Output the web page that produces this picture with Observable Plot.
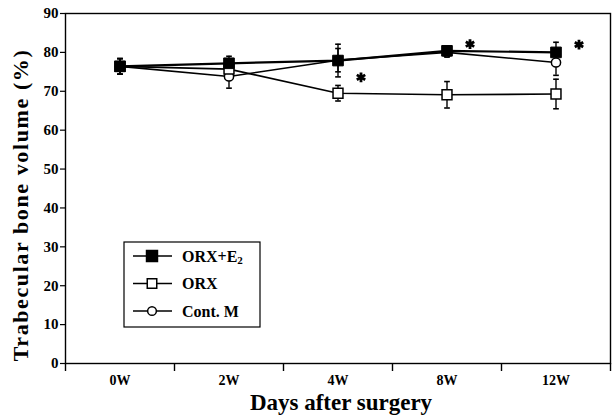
<!DOCTYPE html>
<html>
<head>
<meta charset="utf-8">
<script src="https://cdn.jsdelivr.net/npm/d3@7"></script>
<script src="https://cdn.jsdelivr.net/npm/@observablehq/plot@0.6"></script>
<style>
  html, body { margin: 0; padding: 0; background: #fff; }
  #chart { width: 615px; height: 417px; }
  svg { font-family: "Liberation Serif", "Times New Roman", serif; }
</style>
</head>
<body>
<div id="chart"></div>
<script>
const categories = ["0W", "2W", "4W", "8W", "12W"];
const yTicks = [0, 10, 20, 30, 40, 50, 60, 70, 80, 90];
const seriesNames = ["ORX+E2", "ORX", "Cont. M"];
const orxE2Mean = [76.4, 77.2, 77.9, 80.4, 80.0];
const orxE2Err  = [2.0, 1.8, 4.2, 1.2, 2.6];
const orxMean   = [76.4, 75.7, 69.5, 69.1, 69.3];
const orxErr    = [2.0, 1.5, 2.0, 3.4, 3.8];
const contMean  = [76.4, 73.8, 78.0, 80.0, 77.4];
const contErr   = [2.0, 3.0, 3.0, 1.2, 3.3];
const starCats  = ["4W", "8W", "12W"];
const starVals  = [73.6, 82.1, 82.0];

const serif = '"Liberation Serif", "Times New Roman", serif';

function rows(name, means, errs) {
  return categories.map((c, i) => ({series: name, i, cat: c, v: means[i], lo: means[i] - errs[i], hi: means[i] + errs[i]}));
}
const dE2 = rows(seriesNames[0], orxE2Mean, orxE2Err);
const dOrx = rows(seriesNames[1], orxMean, orxErr);
const dCont = rows(seriesNames[2], contMean, contErr);
const all = [...dCont, ...dOrx, ...dE2];
const stars = starCats.map((c, k) => ({i: categories.indexOf(c), v: starVals[k]}));

const capSymbol = {
  draw(ctx, size) {
    const r = Math.sqrt(size) / 2;
    ctx.moveTo(-r, 0); ctx.lineTo(r, 0);
  }
};
const bandEdges = d3.range(categories.length + 1).map(k => k - 0.5);

const plot = Plot.plot({
  width: 615,
  height: 417,
  marginLeft: 65,
  marginRight: 5,
  marginTop: 13,
  marginBottom: 54,
  style: {fontFamily: serif, background: "#fff", color: "#000"},
  x: {type: "linear", domain: [-0.5, categories.length - 0.5]},
  y: {domain: [0, 90]},
  marks: [
    Plot.frame({stroke: "#000", strokeWidth: 1.4}),
    Plot.axisY({ticks: yTicks, tickSize: 5, tickPadding: 2, fontSize: 15, fontWeight: "bold", fontFamily: serif, label: null, strokeWidth: 1.2}),
    Plot.axisX({ticks: bandEdges, tickSize: 8, tickFormat: () => "", label: null, strokeWidth: 1.4}),
    Plot.axisX({ticks: d3.range(categories.length), tickSize: 0, tickPadding: 12, tickFormat: k => categories[k], fontSize: 14, fontWeight: "bold", fontFamily: serif, label: null}),
    // error bars
    Plot.ruleX(all, {x: "i", y1: "lo", y2: "hi", stroke: "#000", strokeWidth: 1.4}),
    Plot.dot(all, {x: "i", y: "lo", symbol: capSymbol, r: 3.2, stroke: "#000", strokeWidth: 1.6}),
    Plot.dot(all, {x: "i", y: "hi", symbol: capSymbol, r: 3.2, stroke: "#000", strokeWidth: 1.6}),
    // lines
    Plot.line(dCont, {x: "i", y: "v", stroke: "#000", strokeWidth: 1.6}),
    Plot.line(dOrx, {x: "i", y: "v", stroke: "#000", strokeWidth: 1.6}),
    Plot.line(dE2, {x: "i", y: "v", stroke: "#000", strokeWidth: 2.2}),
    // markers
    Plot.dot(dCont, {x: "i", y: "v", symbol: "circle", r: 4.6, fill: "#fff", stroke: "#000", strokeWidth: 1.5}),
    Plot.dot(dOrx, {x: "i", y: "v", symbol: "square", r: 5.6, fill: "#fff", stroke: "#000", strokeWidth: 1.5}),
    Plot.dot(dE2, {x: "i", y: "v", symbol: "square", r: 6.0, fill: "#000", stroke: "#000", strokeWidth: 1}),
    // asterisks
    Plot.dot(stars, {x: "i", y: "v", symbol: "asterisk", r: 4.6, stroke: "#000", strokeWidth: 2.8, dx: 23})
  ]
});

const svg = d3.select(plot);
// axis titles
svg.append("text")
  .attr("transform", "translate(28,205) rotate(-90)")
  .attr("text-anchor", "middle")
  .attr("fill", "#000")
  .attr("font-family", serif)
  .attr("font-size", 22).attr("font-weight", "bold")
  .attr("letter-spacing", 1.6)
  .text("Trabecular bone volume (%)");
svg.append("text")
  .attr("x", 341).attr("y", 410)
  .attr("text-anchor", "middle")
  .attr("fill", "#000")
  .attr("font-family", serif)
  .attr("font-size", 23).attr("font-weight", "bold")
  .text("Days after surgery");

// legend
const lg = svg.append("g");
lg.append("rect").attr("x", 124).attr("y", 242).attr("width", 136).attr("height", 85)
  .attr("fill", "#fff").attr("stroke", "#000").attr("stroke-width", 1.2);
const legendItems = [
  {name: seriesNames[0], sym: d3.symbolSquare, size: 120, fill: "#000"},
  {name: seriesNames[1], sym: d3.symbolSquare, size: 90, fill: "#fff"},
  {name: seriesNames[2], sym: d3.symbolCircle, size: 60, fill: "#fff"}
];
legendItems.forEach((it, k) => {
  const y = 256 + k * 27.5;
  lg.append("line").attr("x1", 133).attr("x2", 172).attr("y1", y).attr("y2", y)
    .attr("stroke", "#000").attr("stroke-width", 1.5);
  lg.append("path").attr("d", d3.symbol(it.sym, it.size)())
    .attr("transform", `translate(152,${y})`)
    .attr("fill", it.fill).attr("stroke", "#000").attr("stroke-width", 1.5);
  const t = lg.append("text").attr("x", 182).attr("y", y + 5.5)
    .attr("text-anchor", "start").attr("fill", "#000")
    .attr("font-family", serif)
    .attr("font-size", 16).attr("font-weight", "bold");
  if (it.name === "ORX+E2") {
    t.append("tspan").text("ORX+E");
    t.append("tspan").attr("font-size", 11).attr("dy", 2).text("2");
  } else {
    t.text(it.name);
  }
});

document.getElementById("chart").appendChild(plot);
</script>
</body>
</html>
